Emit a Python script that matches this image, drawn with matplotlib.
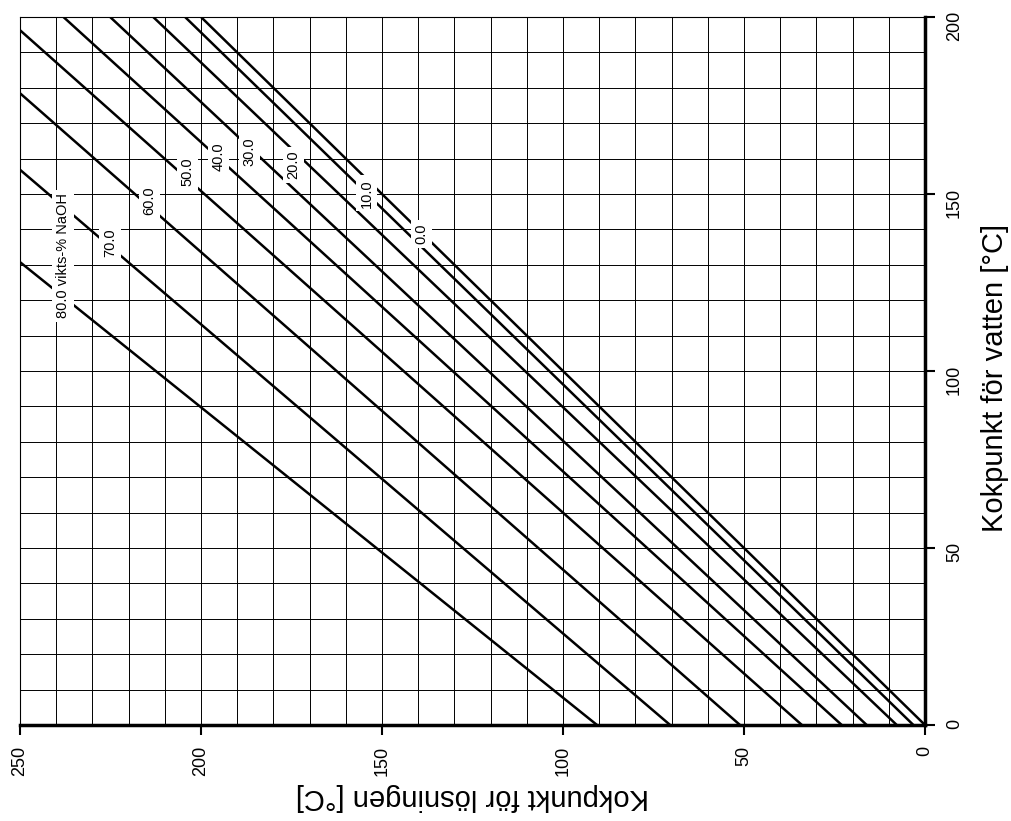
import matplotlib
matplotlib.use("Agg")
import matplotlib.pyplot as plt
from matplotlib.ticker import MultipleLocator

plt.rcParams['font.family'] = ['Liberation Sans', 'DejaVu Sans']

# NaOH concentration (wt-%) and Duhring-line end points:
# boiling point of the solution when water boils at 0 and at 200 degC
conc = [0.0, 10.0, 20.0, 30.0, 40.0, 50.0, 60.0, 70.0, 80.0]
water_bp = [0, 200]
solution_bp_at_0 = [0.0, 3.2, 7.8, 16.1, 23.0, 34.0, 51.1, 70.4, 90.6]
solution_bp_at_200 = [200.0, 204.4, 213.2, 225.1, 238.0, 254.1, 274.0, 299.4, 334.4]

label_texts = ['0.0', '10.0', '20.0', '30.0', '40.0', '50.0', '60.0', '70.0',
               '80.0 vikts-% NaOH']
# where each inline label sits (solution bp, water bp)
label_pos = [(139.0, 138.8), (154.2, 150.2), (174.5, 158.2), (186.7, 161.9),
             (195.2, 160.5), (203.7, 156.2), (214.3, 148.0), (225.1, 136.3),
             (238.1, 132.5)]

fig = plt.figure(figsize=(10.12, 8.21), dpi=100)
ax = fig.add_axes([20 / 1012, 96 / 821, 905 / 1012, 708 / 821])

for lo, hi in zip(solution_bp_at_0, solution_bp_at_200):
    ax.plot([lo, hi], water_bp, color='black', lw=1.8, zorder=3)

for txt, (sx, wy) in zip(label_texts, label_pos):
    ax.text(sx, wy, txt, rotation=90, ha='center', va='center', fontsize=10.5,
            zorder=5, bbox=dict(boxstyle='square,pad=0.25', fc='white', ec='none'))

ax.set_xlim(250, 0)
ax.set_ylim(0, 200)
ax.xaxis.set_major_locator(MultipleLocator(50))
ax.xaxis.set_minor_locator(MultipleLocator(10))
ax.yaxis.set_major_locator(MultipleLocator(50))
ax.yaxis.set_minor_locator(MultipleLocator(10))
ax.grid(which='both', color='black', lw=0.7, zorder=1)
ax.set_axisbelow(True)

ax.yaxis.tick_right()
ax.yaxis.set_label_position('right')
ax.tick_params(which='major', direction='out', length=7, width=1.5, labelsize=13, pad=8)
ax.tick_params(which='minor', length=0)
ax.tick_params(axis='x', labelrotation=90)
ax.tick_params(axis='y', labelrotation=90)

for side in ['bottom', 'right']:
    ax.spines[side].set_linewidth(2.5)
for side in ['top', 'left']:
    ax.spines[side].set_linewidth(0.8)

ax.set_xlabel('Kokpunkt för lösningen [°C]', fontsize=21, rotation=180, labelpad=5)
ax.set_ylabel('Kokpunkt för vatten [°C]', fontsize=21, rotation=90)
ax.yaxis.set_label_coords(1.062, 0.49)

fig.savefig('out.png', dpi=100)
